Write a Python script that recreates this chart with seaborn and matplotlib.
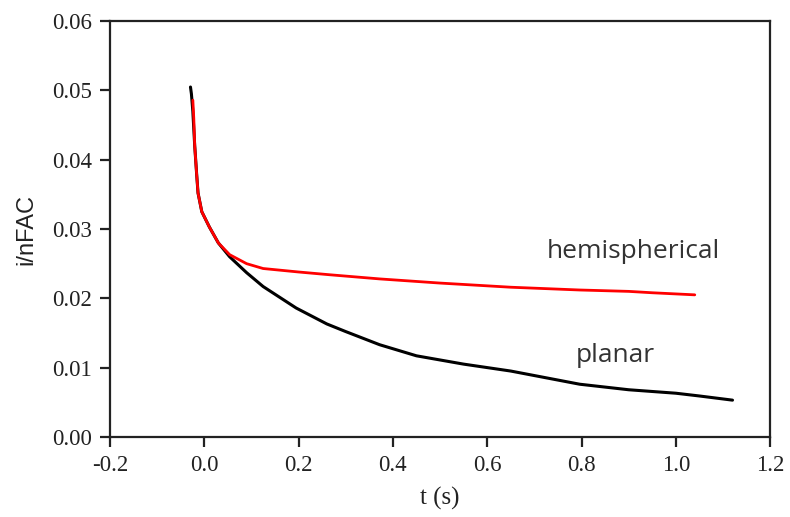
import numpy as np
import pandas as pd
import matplotlib
matplotlib.use("Agg")
import matplotlib.pyplot as plt
import seaborn as sns

# planar electrode transient (black)
t_planar = [-0.029, -0.027, -0.024, -0.020, -0.016, -0.013, -0.005, 0.011, 0.030,
            0.054, 0.090, 0.125, 0.195, 0.26, 0.30, 0.372, 0.45, 0.55, 0.65,
            0.796, 0.90, 1.00, 1.05, 1.12]
i_planar = [0.0505, 0.0495, 0.0470, 0.0420, 0.0380, 0.0352, 0.0325, 0.0303, 0.0280,
            0.0260, 0.0237, 0.0217, 0.0186, 0.0163, 0.0152, 0.0133, 0.0117, 0.0105, 0.0095,
            0.0076, 0.0068, 0.0063, 0.0059, 0.0053]

# hemispherical electrode transient (red)
t_hemi = [-0.024, -0.022, -0.020, -0.016, -0.013, -0.005, 0.011, 0.030, 0.054,
          0.090, 0.125, 0.20, 0.266, 0.372, 0.50, 0.65, 0.796, 0.90, 0.95, 1.04]
i_hemi = [0.0486, 0.0460, 0.0420, 0.0380, 0.0352, 0.0325, 0.0303, 0.0280, 0.0263,
          0.0250, 0.0243, 0.0238, 0.0234, 0.0228, 0.0222, 0.0216, 0.0212, 0.0210, 0.0208, 0.0205]

x_ticks = [-0.2, 0.0, 0.2, 0.4, 0.6, 0.8, 1.0, 1.2]
y_ticks = [0.00, 0.01, 0.02, 0.03, 0.04, 0.05, 0.06]

sns.set_style("ticks")

fig = plt.figure(figsize=(7.9, 5.17), dpi=100)
ax = fig.add_axes([0.139, 0.155, 0.836, 0.804])

sns.lineplot(x=t_planar, y=i_planar, sort=False, color="black", linewidth=2.2, ax=ax)
sns.lineplot(x=t_hemi, y=i_hemi, sort=False, color="#ff0000", linewidth=2, ax=ax)

ax.set_xlim(-0.2, 1.2)
ax.set_ylim(0, 0.06)
ax.set_xticks(x_ticks)
ax.set_yticks(y_ticks)
ax.set_xticklabels([f"{v:.1f}" for v in x_ticks], family="Liberation Serif", fontsize=16.5, color="#222222")
ax.set_yticklabels([f"{v:.2f}" for v in y_ticks], family="Liberation Serif", fontsize=16.5, color="#222222")
ax.tick_params(direction="out", length=7, width=1.6, color="#222222", pad=6)

for side in ["left", "bottom", "top", "right"]:
    ax.spines[side].set_visible(True)
    ax.spines[side].set_linewidth(1.6)
    ax.spines[side].set_color("#222222")

ax.set_xlabel("t (s)", family="Liberation Serif", fontsize=18, color="#222222", labelpad=8)
ax.set_ylabel("i/nFAC", family="Liberation Sans", fontsize=17, color="#222222", labelpad=10)

ax.text(0.909, 0.0267, "hemispherical", family="Open Sans", fontsize=19, color="#333333",
        ha="center", va="center")
ax.text(0.871, 0.0118, "planar", family="Open Sans", fontsize=19, color="#333333",
        ha="center", va="center")

fig.savefig("out.png", dpi=100)
